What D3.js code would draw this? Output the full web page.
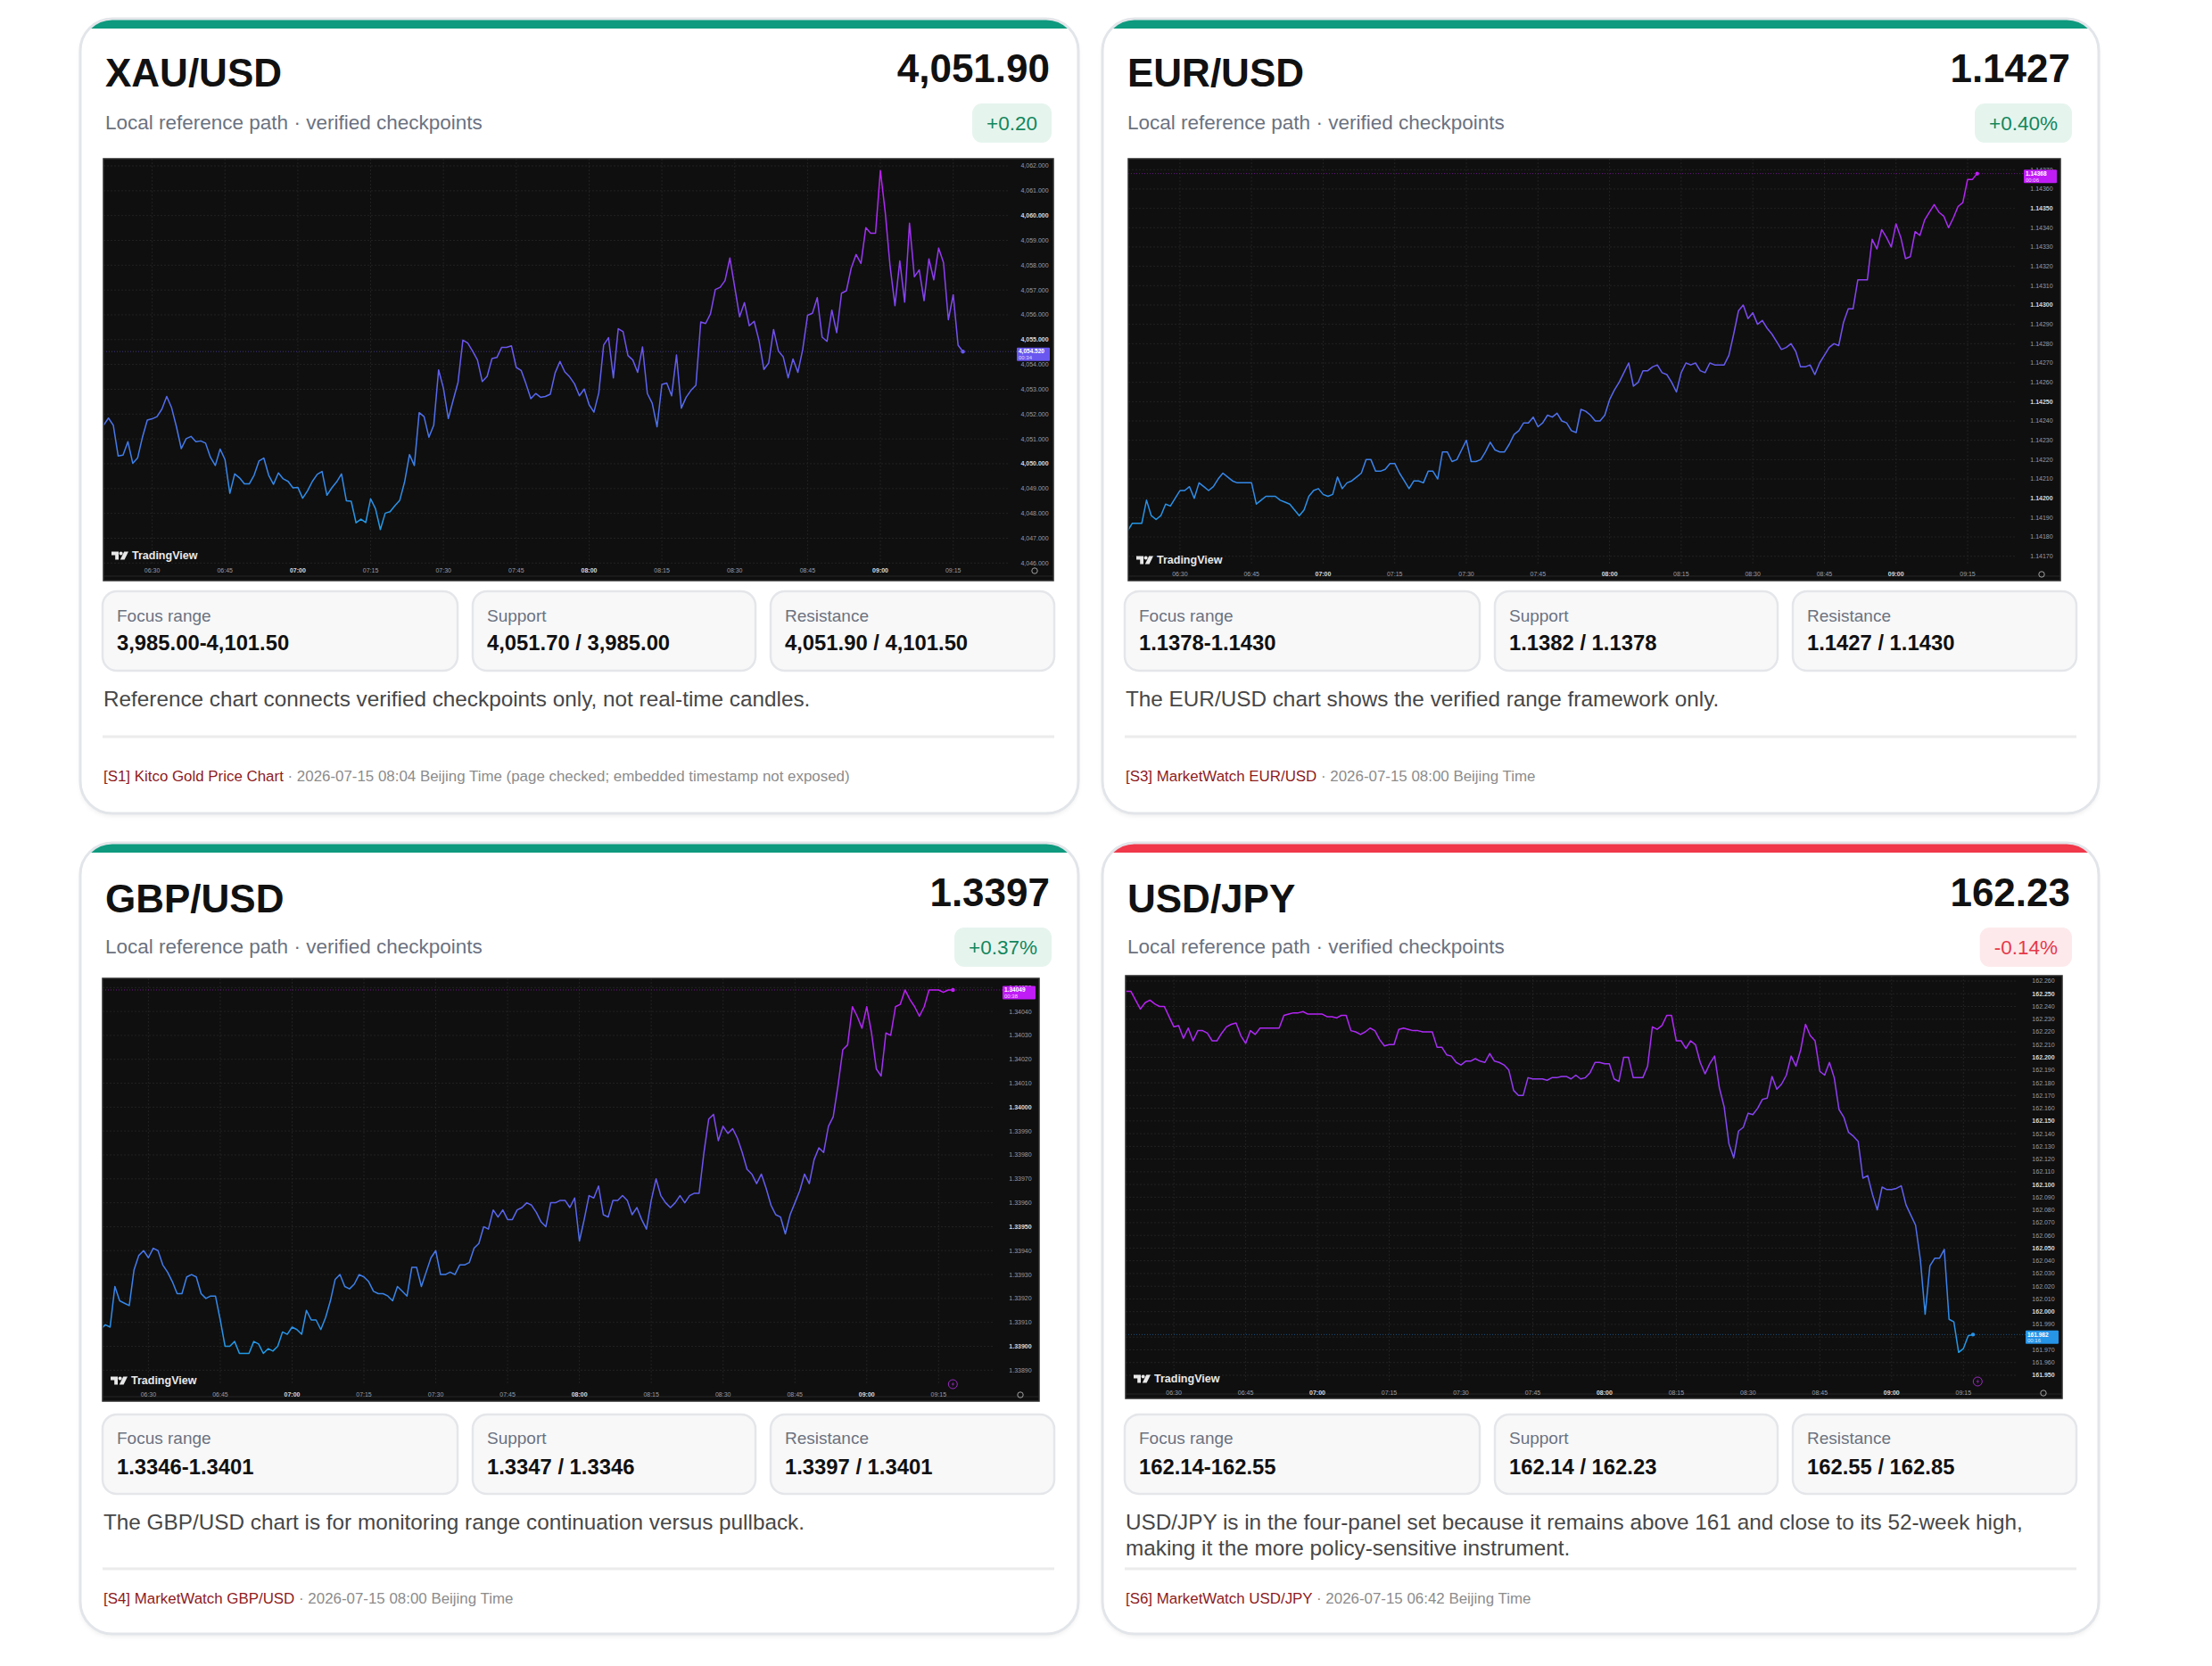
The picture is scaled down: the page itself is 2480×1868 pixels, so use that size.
<!DOCTYPE html>
<html>
<head>
<meta charset="utf-8">
<title>FX reference panels</title>
<script src="https://cdn.jsdelivr.net/npm/d3@7"></script>
<style>
  html, body { margin: 0; padding: 0; background: #ffffff; }
  svg { display: block; }
</style>
</head>
<body>
<svg id="board"></svg>
<script>
// ---- panel text ----
const pairs = ["XAU/USD", "EUR/USD", "GBP/USD", "USD/JPY"];
const lastPrices = ["4,051.90", "1.1427", "1.3397", "162.23"];
const changes = ["+0.20", "+0.40%", "+0.37%", "-0.14%"];
const subtitle = "Local reference path · verified checkpoints";
const infoLabels = ["Focus range", "Support", "Resistance"];
const focusRanges = ["3,985.00-4,101.50", "1.1378-1.1430", "1.3346-1.3401", "162.14-162.55"];
const supports = ["4,051.70 / 3,985.00", "1.1382 / 1.1378", "1.3347 / 1.3346", "162.14 / 162.23"];
const resistances = ["4,051.90 / 4,101.50", "1.1427 / 1.1430", "1.3397 / 1.3401", "162.55 / 162.85"];
const notes = [
    ["Reference chart connects verified checkpoints only, not real-time candles."],
    ["The EUR/USD chart shows the verified range framework only."],
    ["The GBP/USD chart is for monitoring range continuation versus pullback."],
    ["USD/JPY is in the four-panel set because it remains above 161 and close to its 52-week high,",
     "making it the more policy-sensitive instrument."]
];
const sourceLinks = ["[S1] Kitco Gold Price Chart", "[S3] MarketWatch EUR/USD", "[S4] MarketWatch GBP/USD", "[S6] MarketWatch USD/JPY"];
const sourceTimes = [
    "2026-07-15 08:04 Beijing Time (page checked; embedded timestamp not exposed)",
    "2026-07-15 08:00 Beijing Time",
    "2026-07-15 08:00 Beijing Time",
    "2026-07-15 06:42 Beijing Time"
];

// ---- chart axes ----
const timeTicks = ["06:30", "06:45", "07:00", "07:15", "07:30", "07:45", "08:00", "08:15", "08:30", "08:45", "09:00", "09:15"];
const seriesStart = ["06:20", "06:19", "06:20", "06:20"];
const countdowns = ["00:34", "00:06", "00:38", "00:16"];
const xauTicks = [4046, 4047, 4048, 4049, 4050, 4051, 4052, 4053, 4054, 4055, 4056, 4057, 4058, 4059, 4060, 4061, 4062];
const eurTicks = [1.1417, 1.1418, 1.1419, 1.1420, 1.1421, 1.1422, 1.1423, 1.1424, 1.1425, 1.1426, 1.1427,
    1.1428, 1.1429, 1.1430, 1.1431, 1.1432, 1.1433, 1.1434, 1.1435, 1.1436, 1.1437];
const gbpTicks = [1.3389, 1.3390, 1.3391, 1.3392, 1.3393, 1.3394, 1.3395, 1.3396, 1.3397, 1.3398, 1.3399,
    1.3400, 1.3401, 1.3402, 1.3403, 1.3404, 1.3405];
const jpyTicks = [161.95, 161.96, 161.97, 161.98, 161.99, 162.00, 162.01, 162.02, 162.03, 162.04, 162.05,
    162.06, 162.07, 162.08, 162.09, 162.10, 162.11, 162.12, 162.13, 162.14, 162.15, 162.16, 162.17,
    162.18, 162.19, 162.20, 162.21, 162.22, 162.23, 162.24, 162.25, 162.26];

// ---- 1-minute closes ----
const xauValues = [
    4051.55, 4051.84, 4051.55, 4050.31, 4050.35, 4050.89, 4050.02, 4050.23, 4051.07, 4051.76,
    4051.81, 4051.90, 4052.20, 4052.71, 4052.26, 4051.49, 4050.61, 4051.01, 4051.10, 4050.89,
    4050.92, 4050.83, 4050.26, 4049.93, 4050.59, 4050.17, 4048.81, 4049.59, 4049.43, 4049.19,
    4049.19, 4049.54, 4050.11, 4050.23, 4049.54, 4049.17, 4049.63, 4049.39, 4049.29, 4049.03,
    4049.05, 4048.61, 4048.91, 4049.29, 4049.57, 4049.69, 4048.73, 4049.03, 4049.27, 4049.59,
    4048.51, 4048.49, 4047.62, 4047.77, 4047.63, 4048.59, 4048.19, 4047.35, 4048.01, 4048.07,
    4048.31, 4048.53, 4049.27, 4050.37, 4049.93, 4052.06, 4051.90, 4051.07, 4051.55, 4053.78,
    4053.04, 4051.82, 4052.56, 4053.28, 4054.98, 4054.86, 4054.54, 4054.18, 4053.31, 4053.52,
    4054.24, 4054.28, 4054.69, 4054.69, 4054.75, 4053.88, 4053.76, 4053.22, 4052.62, 4052.83,
    4052.68, 4052.71, 4052.80, 4053.66, 4054.12, 4053.70, 4053.50, 4053.22, 4052.74, 4053.01,
    4052.38, 4052.08, 4052.86, 4054.78, 4055.08, 4053.46, 4055.44, 4055.32, 4054.36, 4054.18,
    4053.68, 4054.71, 4052.83, 4052.44, 4051.49, 4053.20, 4053.25, 4052.74, 4054.38, 4052.24,
    4052.68, 4052.96, 4053.16, 4055.71, 4055.65, 4056.04, 4057.02, 4057.11, 4057.38, 4058.29,
    4057.11, 4055.92, 4056.49, 4055.56, 4055.74, 4054.96, 4053.80, 4054.06, 4055.41, 4054.54,
    4054.30, 4053.46, 4054.22, 4053.68, 4054.60, 4055.98, 4056.06, 4056.69, 4055.10, 4054.93,
    4056.19, 4055.28, 4056.87, 4056.97, 4057.89, 4058.43, 4058.07, 4059.51, 4059.29, 4059.29,
    4061.81, 4060.13, 4057.95, 4056.37, 4058.17, 4056.51, 4059.69, 4057.53, 4057.81, 4056.57,
    4058.25, 4057.41, 4058.69, 4058.10, 4055.80, 4056.81, 4054.78, 4054.52
];
const eurValues = [
    1.14183, 1.14187, 1.14187, 1.14187, 1.14199, 1.14191, 1.14189, 1.14191, 1.14197, 1.14196,
    1.14200, 1.14204, 1.14204, 1.14206, 1.14200, 1.14208, 1.14206, 1.14204, 1.14206, 1.14210,
    1.14213, 1.14211, 1.14209, 1.14208, 1.14208, 1.14208, 1.14208, 1.14197, 1.14199, 1.14201,
    1.14201, 1.14201, 1.14199, 1.14198, 1.14197, 1.14194, 1.14191, 1.14194, 1.14201, 1.14204,
    1.14205, 1.14202, 1.14201, 1.14202, 1.14211, 1.14205, 1.14208, 1.14209, 1.14211, 1.14213,
    1.14220, 1.14220, 1.14214, 1.14214, 1.14215, 1.14218, 1.14218, 1.14213, 1.14209, 1.14205,
    1.14209, 1.14209, 1.14208, 1.14214, 1.14214, 1.14210, 1.14224, 1.14224, 1.14219, 1.14220,
    1.14225, 1.14230, 1.14219, 1.14219, 1.14220, 1.14224, 1.14229, 1.14225, 1.14224, 1.14224,
    1.14228, 1.14233, 1.14235, 1.14239, 1.14239, 1.14242, 1.14237, 1.14239, 1.14243, 1.14242,
    1.14244, 1.14240, 1.14239, 1.14235, 1.14234, 1.14246, 1.14245, 1.14243, 1.14240, 1.14240,
    1.14243, 1.14251, 1.14256, 1.14260, 1.14265, 1.14270, 1.14258, 1.14260, 1.14266, 1.14266,
    1.14268, 1.14269, 1.14265, 1.14264, 1.14260, 1.14255, 1.14265, 1.14270, 1.14269, 1.14270,
    1.14266, 1.14265, 1.14270, 1.14269, 1.14269, 1.14269, 1.14274, 1.14285, 1.14297, 1.14300,
    1.14293, 1.14296, 1.14290, 1.14292, 1.14288, 1.14285, 1.14281, 1.14277, 1.14278, 1.14280,
    1.14276, 1.14268, 1.14268, 1.14269, 1.14264, 1.14270, 1.14274, 1.14278, 1.14280, 1.14279,
    1.14291, 1.14298, 1.14298, 1.14313, 1.14313, 1.14313, 1.14334, 1.14329, 1.14339, 1.14335,
    1.14330, 1.14342, 1.14335, 1.14324, 1.14325, 1.14338, 1.14336, 1.14344, 1.14348, 1.14352,
    1.14348, 1.14346, 1.14340, 1.14345, 1.14351, 1.14353, 1.14365, 1.14365, 1.14368
];
const gbpValues = [
    1.33907, 1.33909, 1.33908, 1.33925, 1.33919, 1.33918, 1.33917, 1.33932, 1.33938, 1.33940,
    1.33937, 1.33941, 1.33940, 1.33934, 1.33931, 1.33927, 1.33922, 1.33922, 1.33929, 1.33930,
    1.33929, 1.33922, 1.33920, 1.33921, 1.33921, 1.33911, 1.33900, 1.33900, 1.33902, 1.33897,
    1.33897, 1.33897, 1.33902, 1.33901, 1.33897, 1.33899, 1.33898, 1.33900, 1.33906, 1.33905,
    1.33908, 1.33907, 1.33905, 1.33915, 1.33911, 1.33911, 1.33907, 1.33912, 1.33919, 1.33928,
    1.33930, 1.33925, 1.33924, 1.33926, 1.33930, 1.33929, 1.33927, 1.33923, 1.33922, 1.33922,
    1.33921, 1.33919, 1.33925, 1.33923, 1.33921, 1.33933, 1.33933, 1.33925, 1.33931, 1.33937,
    1.33940, 1.33930, 1.33930, 1.33931, 1.33930, 1.33934, 1.33934, 1.33935, 1.33941, 1.33943,
    1.33950, 1.33949, 1.33957, 1.33954, 1.33957, 1.33953, 1.33953, 1.33957, 1.33958, 1.33960,
    1.33959, 1.33956, 1.33952, 1.33950, 1.33960, 1.33960, 1.33961, 1.33961, 1.33958, 1.33962,
    1.33944, 1.33953, 1.33963, 1.33962, 1.33967, 1.33955, 1.33954, 1.33961, 1.33961, 1.33963,
    1.33961, 1.33955, 1.33958, 1.33953, 1.33949, 1.33961, 1.33970, 1.33963, 1.33960, 1.33958,
    1.33960, 1.33963, 1.33960, 1.33963, 1.33964, 1.33964, 1.33981, 1.33995, 1.33997, 1.33986,
    1.33992, 1.33989, 1.33991, 1.33987, 1.33981, 1.33974, 1.33972, 1.33968, 1.33972, 1.33966,
    1.33959, 1.33955, 1.33954, 1.33947, 1.33955, 1.33960, 1.33965, 1.33972, 1.33968, 1.33978,
    1.33983, 1.33981, 1.33992, 1.33996, 1.34009, 1.34024, 1.34026, 1.34042, 1.34038, 1.34033,
    1.34042, 1.34031, 1.34016, 1.34013, 1.34031, 1.34030, 1.34042, 1.34043, 1.34049, 1.34045,
    1.34042, 1.34038, 1.34042, 1.34049, 1.34049, 1.34049, 1.34048, 1.34049, 1.34049
];
const jpyValues = [
    162.252, 162.252, 162.245, 162.238, 162.243, 162.245, 162.242, 162.240, 162.240, 162.232,
    162.224, 162.225, 162.215, 162.223, 162.213, 162.221, 162.221, 162.219, 162.213, 162.213,
    162.219, 162.224, 162.226, 162.227, 162.217, 162.211, 162.221, 162.218, 162.223, 162.223,
    162.223, 162.223, 162.223, 162.233, 162.234, 162.235, 162.235, 162.236, 162.234, 162.234,
    162.234, 162.234, 162.232, 162.232, 162.231, 162.233, 162.233, 162.221, 162.220, 162.218,
    162.220, 162.223, 162.221, 162.214, 162.209, 162.210, 162.210, 162.222, 162.223, 162.222,
    162.221, 162.221, 162.220, 162.220, 162.220, 162.208, 162.208, 162.202, 162.201, 162.196,
    162.194, 162.197, 162.197, 162.199, 162.197, 162.196, 162.203, 162.197, 162.196, 162.194,
    162.190, 162.174, 162.170, 162.170, 162.184, 162.183, 162.183, 162.183, 162.182, 162.184,
    162.184, 162.185, 162.185, 162.183, 162.186, 162.183, 162.184, 162.188, 162.196, 162.196,
    162.195, 162.195, 162.183, 162.181, 162.200, 162.200, 162.184, 162.184, 162.184, 162.193,
    162.224, 162.222, 162.225, 162.233, 162.233, 162.213, 162.213, 162.207, 162.213, 162.210,
    162.196, 162.187, 162.195, 162.201, 162.176, 162.161, 162.132, 162.121, 162.142, 162.145,
    162.156, 162.155, 162.160, 162.167, 162.168, 162.185, 162.175, 162.179, 162.186, 162.201,
    162.193, 162.206, 162.226, 162.217, 162.213, 162.189, 162.186, 162.196, 162.184, 162.159,
    162.153, 162.141, 162.138, 162.134, 162.105, 162.107, 162.092, 162.080, 162.098, 162.096,
    162.096, 162.097, 162.099, 162.084, 162.076, 162.068, 162.041, 161.998, 162.036, 162.042,
    162.042, 162.049, 161.994, 161.992, 161.968, 161.971, 161.981, 161.982
];

const seriesValues = [xauValues, eurValues, gbpValues, jpyValues];
const priceTicks = [xauTicks, eurTicks, gbpTicks, jpyTicks];
const priceFormats = [",.3f", ".5f", ".5f", ".3f"];
const majorSteps = [5, 0.0005, 0.0005, 0.05];

// ---- layout ----
const W = 2480, H = 1868;
const FONT = "'Liberation Sans', Arial, Helvetica, sans-serif";
const lineStops = ["#c01cf6", "#6a56f0", "#1f9be6"];
const colorAt = d3.piecewise(d3.interpolateRgb, lineStops);

const cardBoxes = [
    {x: 90, y: 21, w: 1119, h: 891, row: 0},
    {x: 1236, y: 21, w: 1117, h: 891, row: 0},
    {x: 90, y: 945, w: 1119, h: 887, row: 1},
    {x: 1236, y: 945, w: 1117, h: 887, row: 1}
]
const rowText = [
    {title: 76, price: 70.5, sub: 116.5, badge: 95, boxTop: 642, label: 676, value: 708, note: 771, divider: 805, footer: 855},
    {title: 78, price: 71, sub: 116.5, badge: 95, boxTop: 641, label: 674, value: 708, note: 770, divider: 814, footer: 853}
]
const infoCols = [[25, 423], [440, 757], [774, 1092]]

// TradingView screenshots: box, time-axis anchors and price-axis anchors
const chartBoxes = [
    {x: 116, y: 178, w: 1065, h: 473, t0: 54.6, t1: 952.7, yTop: 8, yBot: 453.3, timeY: 462, logoY: 445, alert: false},
    {x: 1265, y: 178, w: 1045, h: 473, t0: 57.9, t1: 941, yTop: 12.3, yBot: 445.7, timeY: 466, logoY: 450, alert: false},
    {x: 115, y: 1097, w: 1050, h: 474, t0: 51.4, t1: 937.3, yTop: 10.3, yBot: 439.3, timeY: 467, logoY: 451, alert: true},
    {x: 1262, y: 1094, w: 1050, h: 474, t0: 54.1, t1: 939.3, yTop: 6, yBot: 448, timeY: 468, logoY: 452, alert: true}
]

function toMin(s) {
    const parts = s.split(":").map(Number)
    return parts[0] * 60 + parts[1]
}

const svg = d3.select("#board")
    .attr("width", W)
    .attr("height", H)
    .attr("font-family", FONT)
const defs = svg.append("defs")

const shadow = defs.append("filter")
    .attr("id", "cardShadow")
    .attr("x", "-5%").attr("y", "-5%")
    .attr("width", "110%").attr("height", "115%")
shadow.append("feDropShadow")
    .attr("dx", 0).attr("dy", 3)
    .attr("stdDeviation", 2.5)
    .attr("flood-color", "#000")
    .attr("flood-opacity", 0.07)

// ---- cards ----
pairs.forEach((pair, i) => {
    const c = cardBoxes[i]
    const r = rowText[c.row]
    const down = changes[i].startsWith("-")
    const g = svg.append("g").attr("transform", `translate(${c.x},${c.y})`)

    defs.append("clipPath").attr("id", `cardClip${i}`)
        .append("rect")
        .attr("width", c.w).attr("height", c.h)
        .attr("rx", 36).attr("ry", 36)

    g.append("rect")
        .attr("width", c.w).attr("height", c.h)
        .attr("rx", 36).attr("ry", 36)
        .attr("fill", "#ffffff")
        .attr("filter", "url(#cardShadow)")
    g.append("rect")
        .attr("clip-path", `url(#cardClip${i})`)
        .attr("width", c.w).attr("height", 11)
        .attr("fill", down ? "#f0384a" : "#0e9a7e")
    g.append("rect")
        .attr("width", c.w).attr("height", c.h)
        .attr("rx", 36).attr("ry", 36)
        .attr("fill", "none")
        .attr("stroke", "#e2e5e9")
        .attr("stroke-width", 3)

    // header
    g.append("text")
        .attr("x", 28).attr("y", r.title)
        .attr("font-size", 44).attr("font-weight", "bold")
        .attr("fill", "#111111")
        .text(pair)
    g.append("text")
        .attr("x", c.w - 32).attr("y", r.price)
        .attr("text-anchor", "end")
        .attr("font-size", 44).attr("font-weight", "bold")
        .attr("fill", "#111111")
        .text(lastPrices[i])
    g.append("text")
        .attr("x", 28).attr("y", r.sub)
        .attr("dy", "0.35em")
        .attr("font-size", 22.5)
        .attr("fill", "#6b7280")
        .text(subtitle)

    const badgeText = g.append("text")
        .attr("x", c.w - 30 - 16).attr("y", r.badge + 22)
        .attr("dy", "0.35em")
        .attr("text-anchor", "end")
        .attr("font-size", 22.5)
        .attr("fill", down ? "#e5394b" : "#12875c")
        .text(changes[i])
    const bw = badgeText.node().getComputedTextLength() + 32
    g.insert("rect", () => badgeText.node())
        .attr("x", c.w - 30 - bw).attr("y", r.badge)
        .attr("width", bw).attr("height", 44)
        .attr("rx", 11).attr("ry", 11)
        .attr("fill", down ? "#fde9eb" : "#e6f4ee")

    // info boxes
    const infoVals = [focusRanges[i], supports[i], resistances[i]]
    infoCols.forEach((col, k) => {
        g.append("rect")
            .attr("x", col[0]).attr("y", r.boxTop)
            .attr("width", col[1] - col[0]).attr("height", 89)
            .attr("rx", 16).attr("ry", 16)
            .attr("fill", "#f8f8f9")
            .attr("stroke", "#e4e6e9")
            .attr("stroke-width", 2.5)
        g.append("text")
            .attr("x", col[0] + 16).attr("y", r.label)
            .attr("font-size", 19)
            .attr("fill", "#6b7280")
            .text(infoLabels[k])
        g.append("text")
            .attr("x", col[0] + 16).attr("y", r.value)
            .attr("font-size", 23.8).attr("font-weight", "bold")
            .attr("fill", "#111111")
            .text(infoVals[k])
    })

    // note, divider, footer
    notes[i].forEach((line, k) => {
        g.append("text")
            .attr("x", 26).attr("y", r.note + k * 28.7)
            .attr("font-size", 24.3)
            .attr("fill", "#474747")
            .text(line)
    })
    g.append("line")
        .attr("x1", 25).attr("x2", 1092)
        .attr("y1", r.divider).attr("y2", r.divider)
        .attr("stroke", "#ececec")
        .attr("stroke-width", 3)
    const foot = g.append("text")
        .attr("x", 26).attr("y", r.footer)
        .attr("font-size", 16.9)
    foot.append("tspan").attr("fill", "#8f1b1b").text(sourceLinks[i])
    foot.append("tspan").attr("fill", "#8c8c8c").text(" · " + sourceTimes[i])
})

// ---- TradingView-style line charts ----
function drawLogo(g, x, y) {
    const lg = g.append("g")
        .attr("transform", `translate(${x},${y})`)
        .attr("fill", "#e8e8e8")
    lg.append("path").attr("d", "M0 -4.5H8V4.5H4.2V-0.6H0Z")
    lg.append("circle").attr("cx", 10.6).attr("cy", -2.4).attr("r", 2)
    lg.append("path").attr("d", "M14.2 -4.5H19L14.6 4.5H9.8Z")
    lg.append("text")
        .attr("x", 23).attr("y", 4.2)
        .attr("font-size", 12.5).attr("font-weight", "bold")
        .text("TradingView")
}

function drawChart(i) {
    const b = chartBoxes[i]
    const vals = seriesValues[i]
    const ticks = priceTicks[i]
    const fmt = d3.format(priceFormats[i])
    const step = majorSteps[i]
    const t0 = toMin(seriesStart[i])
    const data = vals.map((v, k) => ({t: t0 + k, v: v}))

    const x = d3.scaleLinear()
        .domain([toMin(timeTicks[0]), toMin(timeTicks[timeTicks.length - 1])])
        .range([b.x + b.t0, b.x + b.t1])
    const y = d3.scaleLinear()
        .domain([ticks[0], ticks[ticks.length - 1]])
        .range([b.y + b.yBot, b.y + b.yTop])

    defs.append("clipPath").attr("id", `chartClip${i}`)
        .append("rect")
        .attr("x", b.x).attr("y", b.y)
        .attr("width", b.w).attr("height", b.h)

    const g = svg.append("g").attr("clip-path", `url(#chartClip${i})`)
    g.append("rect")
        .attr("x", b.x).attr("y", b.y)
        .attr("width", b.w).attr("height", b.h)
        .attr("fill", "#0f0f0f")

    const paneRight = b.x + b.w - 50
    const paneBottom = b.y + b.h - 18

    g.append("g")
        .attr("stroke", "#222222")
        .attr("stroke-dasharray", "2,2")
        .selectAll("line")
        .data(ticks)
        .join("line")
        .attr("x1", b.x).attr("x2", paneRight)
        .attr("y1", d => y(d)).attr("y2", d => y(d))
    g.append("g")
        .attr("stroke", "#222222")
        .attr("stroke-dasharray", "2,2")
        .selectAll("line")
        .data(timeTicks)
        .join("line")
        .attr("x1", d => x(toMin(d))).attr("x2", d => x(toMin(d)))
        .attr("y1", b.y).attr("y2", paneBottom)
    g.append("line")
        .attr("x1", b.x).attr("x2", b.x + b.w)
        .attr("y1", b.y + b.h - 5).attr("y2", b.y + b.h - 5)
        .attr("stroke", "#262626")

    // line with value gradient (purple high, blue low)
    const ext = d3.extent(vals)
    const grad = defs.append("linearGradient")
        .attr("id", `lineGrad${i}`)
        .attr("gradientUnits", "userSpaceOnUse")
        .attr("x1", 0).attr("x2", 0)
        .attr("y1", y(ext[1])).attr("y2", y(ext[0]))
    lineStops.forEach((col, k) => {
        grad.append("stop")
            .attr("offset", k / (lineStops.length - 1))
            .attr("stop-color", col)
    })
    const last = data[data.length - 1]
    const lastColor = colorAt((ext[1] - last.v) / (ext[1] - ext[0]))
    const ly = y(last.v)

    g.append("line")
        .attr("x1", b.x).attr("x2", b.x + b.w - 40)
        .attr("y1", ly).attr("y2", ly)
        .attr("stroke", lastColor)
        .attr("stroke-opacity", 0.5)
        .attr("stroke-dasharray", "1,2")

    const lineGen = d3.line()
        .x(d => x(d.t))
        .y(d => y(d.v))
    g.append("path")
        .datum(data)
        .attr("d", lineGen)
        .attr("fill", "none")
        .attr("stroke", `url(#lineGrad${i})`)
        .attr("stroke-width", 1.5)
        .attr("stroke-linejoin", "round")
    g.append("circle")
        .attr("cx", x(last.t)).attr("cy", ly)
        .attr("r", 2.2)
        .attr("fill", lastColor)

    // price scale
    const isMajor = d => Math.abs(Math.round(d / step) * step - d) < 1e-7
    g.append("g")
        .selectAll("text")
        .data(ticks)
        .join("text")
        .attr("x", b.x + b.w - 21)
        .attr("y", d => y(d))
        .attr("dy", "0.35em")
        .attr("text-anchor", "middle")
        .attr("font-size", 7)
        .attr("font-weight", d => isMajor(d) ? "bold" : "normal")
        .attr("fill", d => isMajor(d) ? "#d6d8de" : "#9a9ea8")
        .text(d => fmt(d))

    // time scale
    g.append("g")
        .selectAll("text")
        .data(timeTicks)
        .join("text")
        .attr("x", d => x(toMin(d)))
        .attr("y", b.y + b.timeY)
        .attr("dy", "0.35em")
        .attr("text-anchor", "middle")
        .attr("font-size", 7)
        .attr("font-weight", d => d.endsWith(":00") ? "bold" : "normal")
        .attr("fill", d => d.endsWith(":00") ? "#d6d8de" : "#9a9ea8")
        .text(d => d)

    // last price tag
    g.append("rect")
        .attr("x", b.x + b.w - 41).attr("y", ly - 4.5)
        .attr("width", 37).attr("height", 15)
        .attr("rx", 1)
        .attr("fill", lastColor)
    g.append("text")
        .attr("x", b.x + b.w - 39).attr("y", ly)
        .attr("dy", "0.35em")
        .attr("font-size", 6.5).attr("font-weight", "bold")
        .attr("fill", "#ffffff")
        .text(fmt(last.v))
    g.append("text")
        .attr("x", b.x + b.w - 39).attr("y", ly + 6.8)
        .attr("dy", "0.35em")
        .attr("font-size", 6)
        .attr("fill", "#ffffff")
        .attr("fill-opacity", 0.8)
        .text(countdowns[i])

    drawLogo(g, b.x + 9, b.y + b.logoY)

    // settings glyph in the corner
    g.append("circle")
        .attr("cx", b.x + b.w - 21).attr("cy", b.y + b.timeY)
        .attr("r", 3.2)
        .attr("fill", "none")
        .attr("stroke", "#c4c4c4")
        .attr("stroke-width", 0.8)

    if (b.alert) {
        const ax = x(toMin(timeTicks[timeTicks.length - 1])) + 16
        const ay = b.y + b.h - 19
        g.append("circle")
            .attr("cx", ax).attr("cy", ay)
            .attr("r", 5)
            .attr("fill", "none")
            .attr("stroke", "#9c2bc4")
            .attr("stroke-width", 1)
        g.append("path")
            .attr("d", `M${ax + 1} ${ay - 3.2}L${ax - 1.6} ${ay + 0.4}H${ax + 0.4}L${ax - 1} ${ay + 3.2}L${ax + 1.8} ${ay - 0.6}H${ax - 0.2}Z`)
            .attr("fill", "#9c2bc4")
    }

    svg.append("rect")
        .attr("x", b.x).attr("y", b.y)
        .attr("width", b.w).attr("height", b.h)
        .attr("fill", "none")
        .attr("stroke", "#2c2c2c")
        .attr("stroke-width", 1.5)
}

pairs.forEach((p, i) => drawChart(i))
</script>
</body>
</html>
